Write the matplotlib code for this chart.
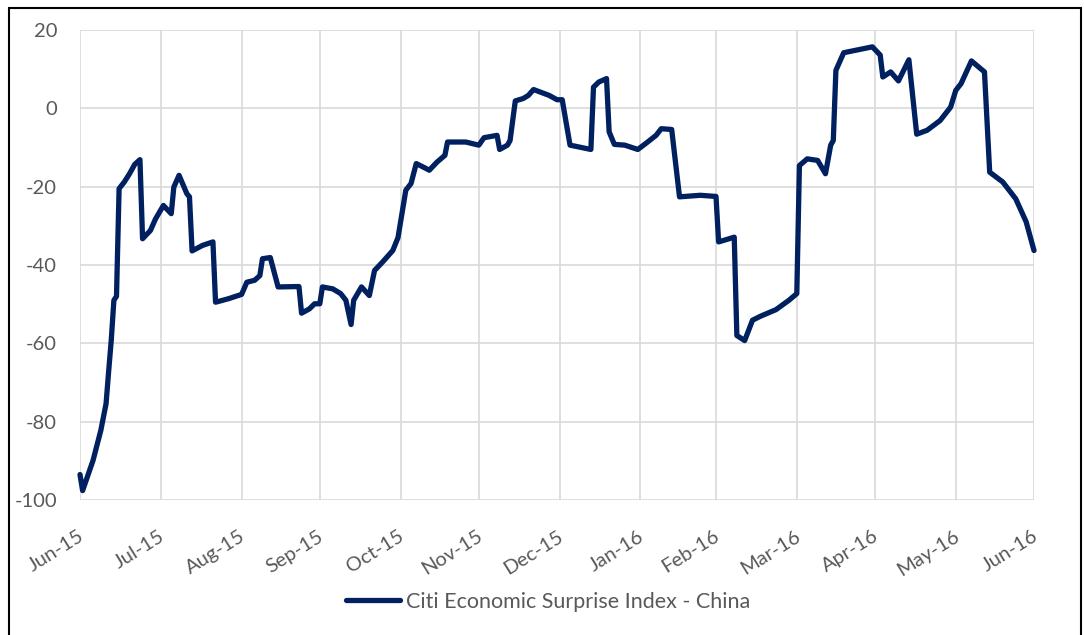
import pandas as pd
import matplotlib
matplotlib.use("Agg")
from matplotlib import pyplot as plt
import matplotlib.dates as mdates
import matplotlib.transforms as mtransforms
from matplotlib.patches import Rectangle

# Citi Economic Surprise Index - China, key points
dates = [
    "2015-06-30", "2015-07-01", "2015-07-05", "2015-07-08", "2015-07-10",
    "2015-07-11", "2015-07-12", "2015-07-13", "2015-07-14", "2015-07-15",
    "2015-07-17", "2015-07-19", "2015-07-21", "2015-07-23", "2015-07-24",
    "2015-07-27", "2015-07-29", "2015-08-01", "2015-08-04", "2015-08-05",
    "2015-08-07", "2015-08-10", "2015-08-11", "2015-08-12", "2015-08-16",
    "2015-08-20", "2015-08-21", "2015-08-26", "2015-08-31", "2015-09-02",
    "2015-09-05", "2015-09-07", "2015-09-08", "2015-09-11", "2015-09-14",
    "2015-09-22", "2015-09-23", "2015-09-26", "2015-09-28", "2015-09-30",
    "2015-10-01", "2015-10-05", "2015-10-08", "2015-10-10", "2015-10-12",
    "2015-10-13", "2015-10-16", "2015-10-19", "2015-10-21", "2015-10-24",
    "2015-10-28", "2015-10-30", "2015-11-02", "2015-11-04", "2015-11-06",
    "2015-11-09", "2015-11-11", "2015-11-14", "2015-11-17", "2015-11-18",
    "2015-11-25", "2015-11-30", "2015-12-02", "2015-12-07", "2015-12-08",
    "2015-12-11", "2015-12-12", "2015-12-14", "2015-12-17", "2015-12-19",
    "2015-12-21", "2015-12-27", "2015-12-30", "2016-01-01", "2016-01-04",
    "2016-01-12", "2016-01-13", "2016-01-15", "2016-01-18", "2016-01-19",
    "2016-01-21", "2016-01-25", "2016-01-30", "2016-02-02", "2016-02-06",
    "2016-02-08", "2016-02-12", "2016-02-15", "2016-02-23", "2016-02-29",
    "2016-03-01", "2016-03-07", "2016-03-08", "2016-03-11", "2016-03-14",
    "2016-03-17", "2016-03-23", "2016-03-28", "2016-03-31", "2016-04-01",
    "2016-04-04", "2016-04-08", "2016-04-11", "2016-04-13", "2016-04-14",
    "2016-04-15", "2016-04-18", "2016-04-29", "2016-05-02", "2016-05-03",
    "2016-05-06", "2016-05-09", "2016-05-13", "2016-05-16", "2016-05-20",
    "2016-05-25", "2016-05-29", "2016-05-31", "2016-06-02", "2016-06-06",
    "2016-06-11", "2016-06-13", "2016-06-18", "2016-06-23", "2016-06-27",
    "2016-06-30",
]
cesi = [
    -93.5, -97.6, -89.9, -82.2, -75.4,
    -67.1, -59.1, -49.0, -48.0, -20.5,
    -18.8, -16.7, -14.3, -13.1, -33.3,
    -31.2, -28.2, -24.8, -26.9, -20.1,
    -17.1, -21.8, -22.6, -36.4, -35.0,
    -34.1, -49.5, -48.6, -47.5, -44.4,
    -43.9, -42.7, -38.4, -38.1, -45.6,
    -45.5, -52.3, -51.2, -49.9, -49.9,
    -45.6, -46.1, -47.3, -49.0, -55.2,
    -49.0, -45.6, -47.8, -41.4, -39.3,
    -36.3, -33.0, -20.9, -19.2, -14.1,
    -15.1, -15.8, -13.7, -12.0, -8.6,
    -8.6, -9.4, -7.5, -6.9, -10.5,
    -9.4, -8.2, 1.9, 2.5, 3.3,
    4.8, 3.3, 2.2, 2.2, -9.4,
    -10.5, 5.4, 6.7, 7.6, -6.0,
    -9.2, -9.4, -10.5, -9.0, -6.9,
    -5.2, -5.4, -22.6, -22.2, -22.5,
    -34.1, -32.9, -58.0, -59.3, -54.1,
    -53.1, -51.4, -49.0, -47.3, -14.6,
    -12.9, -13.3, -16.7, -9.4, -8.2,
    9.7, 14.2, 15.7, 13.6, 8.0,
    9.3, 7.0, 12.4, -6.6, -5.6,
    -3.1, 0.3, 4.6, 6.3, 12.1,
    9.3, -16.3, -18.8, -23.1, -29.0,
    -36.3,
]

# Month-end axis ticks (Excel date axis)
tick_dates = pd.date_range("2015-06-30", "2016-06-30", freq="ME")
y_ticks = [-100, -80, -60, -40, -20, 0, 20]

df = pd.DataFrame({"date": pd.to_datetime(dates), "cesi": cesi})

plt.rcParams["font.family"] = ["Lato", "DejaVu Sans"]
plt.rcParams["axes.unicode_minus"] = False

# Create figure
fig = plt.figure(figsize=(10.84, 6.35), dpi=100)
ax = fig.add_axes([80 / 1084, 1 - 500 / 635, 954 / 1084, 470 / 635])

ax.plot(df["date"], df["cesi"], color="#002060", lw=3.8,
        solid_joinstyle="round", solid_capstyle="round",
        label="Citi Economic Surprise Index - China", clip_on=False, zorder=3)

# Axes
ax.set_xlim(tick_dates[0], tick_dates[-1])
ax.set_ylim(-100, 20)
ax.set_xticks(tick_dates)
ax.xaxis.set_major_formatter(mdates.DateFormatter("%b-%y"))
ax.set_yticks(y_ticks)

for s in ax.spines.values():
    s.set_visible(False)
ax.grid(True, color="#d9d9d9", lw=1.2)
ax.set_axisbelow(True)

ax.tick_params(axis="both", length=0, colors="#595959")
ax.tick_params(axis="y", pad=16.5, labelsize=14.5)
ax.tick_params(axis="x", pad=25, labelsize=14.5)
shift = mtransforms.ScaledTranslation(2 / 100, 0, fig.dpi_scale_trans)
for lab in ax.get_xticklabels():
    lab.set_rotation(32)
    lab.set_ha("right")
    lab.set_va("center")
    lab.set_rotation_mode("anchor")
    lab.set_transform(lab.get_transform() + shift)

# Legend
leg = fig.legend(loc="center", bbox_to_anchor=(548 / 1084, 1 - 602 / 635),
                 frameon=False, fontsize=15.5, handlelength=2.5,
                 handletextpad=0.3, labelcolor="#595959")

# Chart border
fig.add_artist(Rectangle((9 / 1084, -0.05), 1072 / 1084, 1.05 - 8 / 635,
                         transform=fig.transFigure, fill=False,
                         ec="black", lw=1.5))

# Save plot
plt.savefig("out.png", dpi=100)
